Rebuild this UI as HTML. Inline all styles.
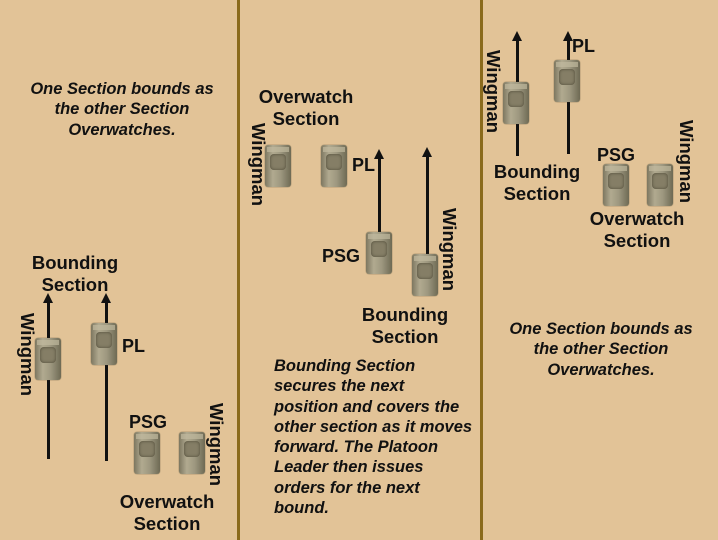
<!DOCTYPE html>
<html><head><meta charset="utf-8"><style>
body{margin:0}
#c{position:relative;width:718px;height:540px;overflow:hidden;background:#e2c397;font-family:"Liberation Sans",sans-serif;color:#111}
.d{position:absolute;top:0;width:3px;height:540px;background:#8a6a1c}
.t{position:absolute;width:26px;height:42px;border-radius:3px;background:linear-gradient(90deg,#7d7760,#b1aa90 30%,#9e9880 60%,#6e6a54);box-shadow:0 0 1px #4a4530}
.t:before{content:"";position:absolute;left:5px;top:9px;width:16px;height:16px;border-radius:4px;background:#857e66;box-shadow:inset 0 0 3px #4e4a38}
.t:after{content:"";position:absolute;left:2px;top:2px;width:22px;height:5px;background:#c0b99e;opacity:.7}
.l{position:absolute;font-weight:bold;font-size:18.5px;line-height:22px;text-align:center;white-space:nowrap}
.s{position:absolute;font-weight:bold;font-size:18px;white-space:nowrap}
.v{position:absolute;font-weight:bold;font-size:18.5px;white-space:nowrap;transform:rotate(90deg);transform-origin:0 0}
.a{position:absolute;width:3px;background:#111}
.a:before{content:"";position:absolute;left:-4px;top:-9px;border-left:5.5px solid transparent;border-right:5.5px solid transparent;border-bottom:10px solid #111}
.i{position:absolute;font-weight:bold;font-style:italic;font-size:16.5px;line-height:20.3px;white-space:nowrap}
</style></head><body><div id="c">
<div class="d" style="left:237px"></div><div class="d" style="left:480px"></div>

<div class="i" style="left:12px;top:79px;width:220px;text-align:center">One Section bounds as<br>the other Section<br>Overwatches.</div>
<div class="l" style="left:15px;top:252px;width:120px">Bounding<br>Section</div>
<div class="a" style="left:47px;top:302px;height:157px"></div>
<div class="a" style="left:105px;top:302px;height:159px"></div>
<div class="t" style="left:35px;top:338px"></div>
<div class="t" style="left:91px;top:323px"></div>
<div class="v" style="left:38px;top:313px">Wingman</div>
<div class="s" style="left:122px;top:336px">PL</div>
<div class="s" style="left:129px;top:412px">PSG</div>
<div class="t" style="left:134px;top:432px"></div>
<div class="t" style="left:179px;top:432px"></div>
<div class="v" style="left:227px;top:403px">Wingman</div>
<div class="l" style="left:107px;top:491px;width:120px">Overwatch<br>Section</div>

<div class="l" style="left:246px;top:86px;width:120px">Overwatch<br>Section</div>
<div class="v" style="left:269px;top:123px">Wingman</div>
<div class="t" style="left:265px;top:145px"></div>
<div class="t" style="left:321px;top:145px"></div>
<div class="s" style="left:352px;top:155px">PL</div>
<div class="a" style="left:378px;top:158px;height:77px"></div>
<div class="a" style="left:426px;top:156px;height:100px"></div>
<div class="t" style="left:366px;top:232px"></div>
<div class="s" style="left:322px;top:246px">PSG</div>
<div class="t" style="left:412px;top:254px"></div>
<div class="v" style="left:460px;top:208px">Wingman</div>
<div class="l" style="left:345px;top:304px;width:120px">Bounding<br>Section</div>
<div class="i" style="left:274px;top:356px">Bounding Section<br>secures the next<br>position and covers the<br>other section as it moves<br>forward. The Platoon<br>Leader then issues<br>orders for the next<br>bound.</div>

<div class="a" style="left:516px;top:40px;height:116px"></div>
<div class="a" style="left:567px;top:40px;height:114px"></div>
<div class="t" style="left:503px;top:82px"></div>
<div class="t" style="left:554px;top:60px"></div>
<div class="v" style="left:504px;top:50px">Wingman</div>
<div class="s" style="left:572px;top:36px">PL</div>
<div class="l" style="left:477px;top:161px;width:120px">Bounding<br>Section</div>
<div class="s" style="left:597px;top:145px">PSG</div>
<div class="t" style="left:603px;top:164px"></div>
<div class="t" style="left:647px;top:164px"></div>
<div class="v" style="left:697px;top:120px">Wingman</div>
<div class="l" style="left:577px;top:208px;width:120px">Overwatch<br>Section</div>
<div class="i" style="left:490px;top:319px;width:222px;text-align:center">One Section bounds as<br>the other Section<br>Overwatches.</div>
</div></body></html>
